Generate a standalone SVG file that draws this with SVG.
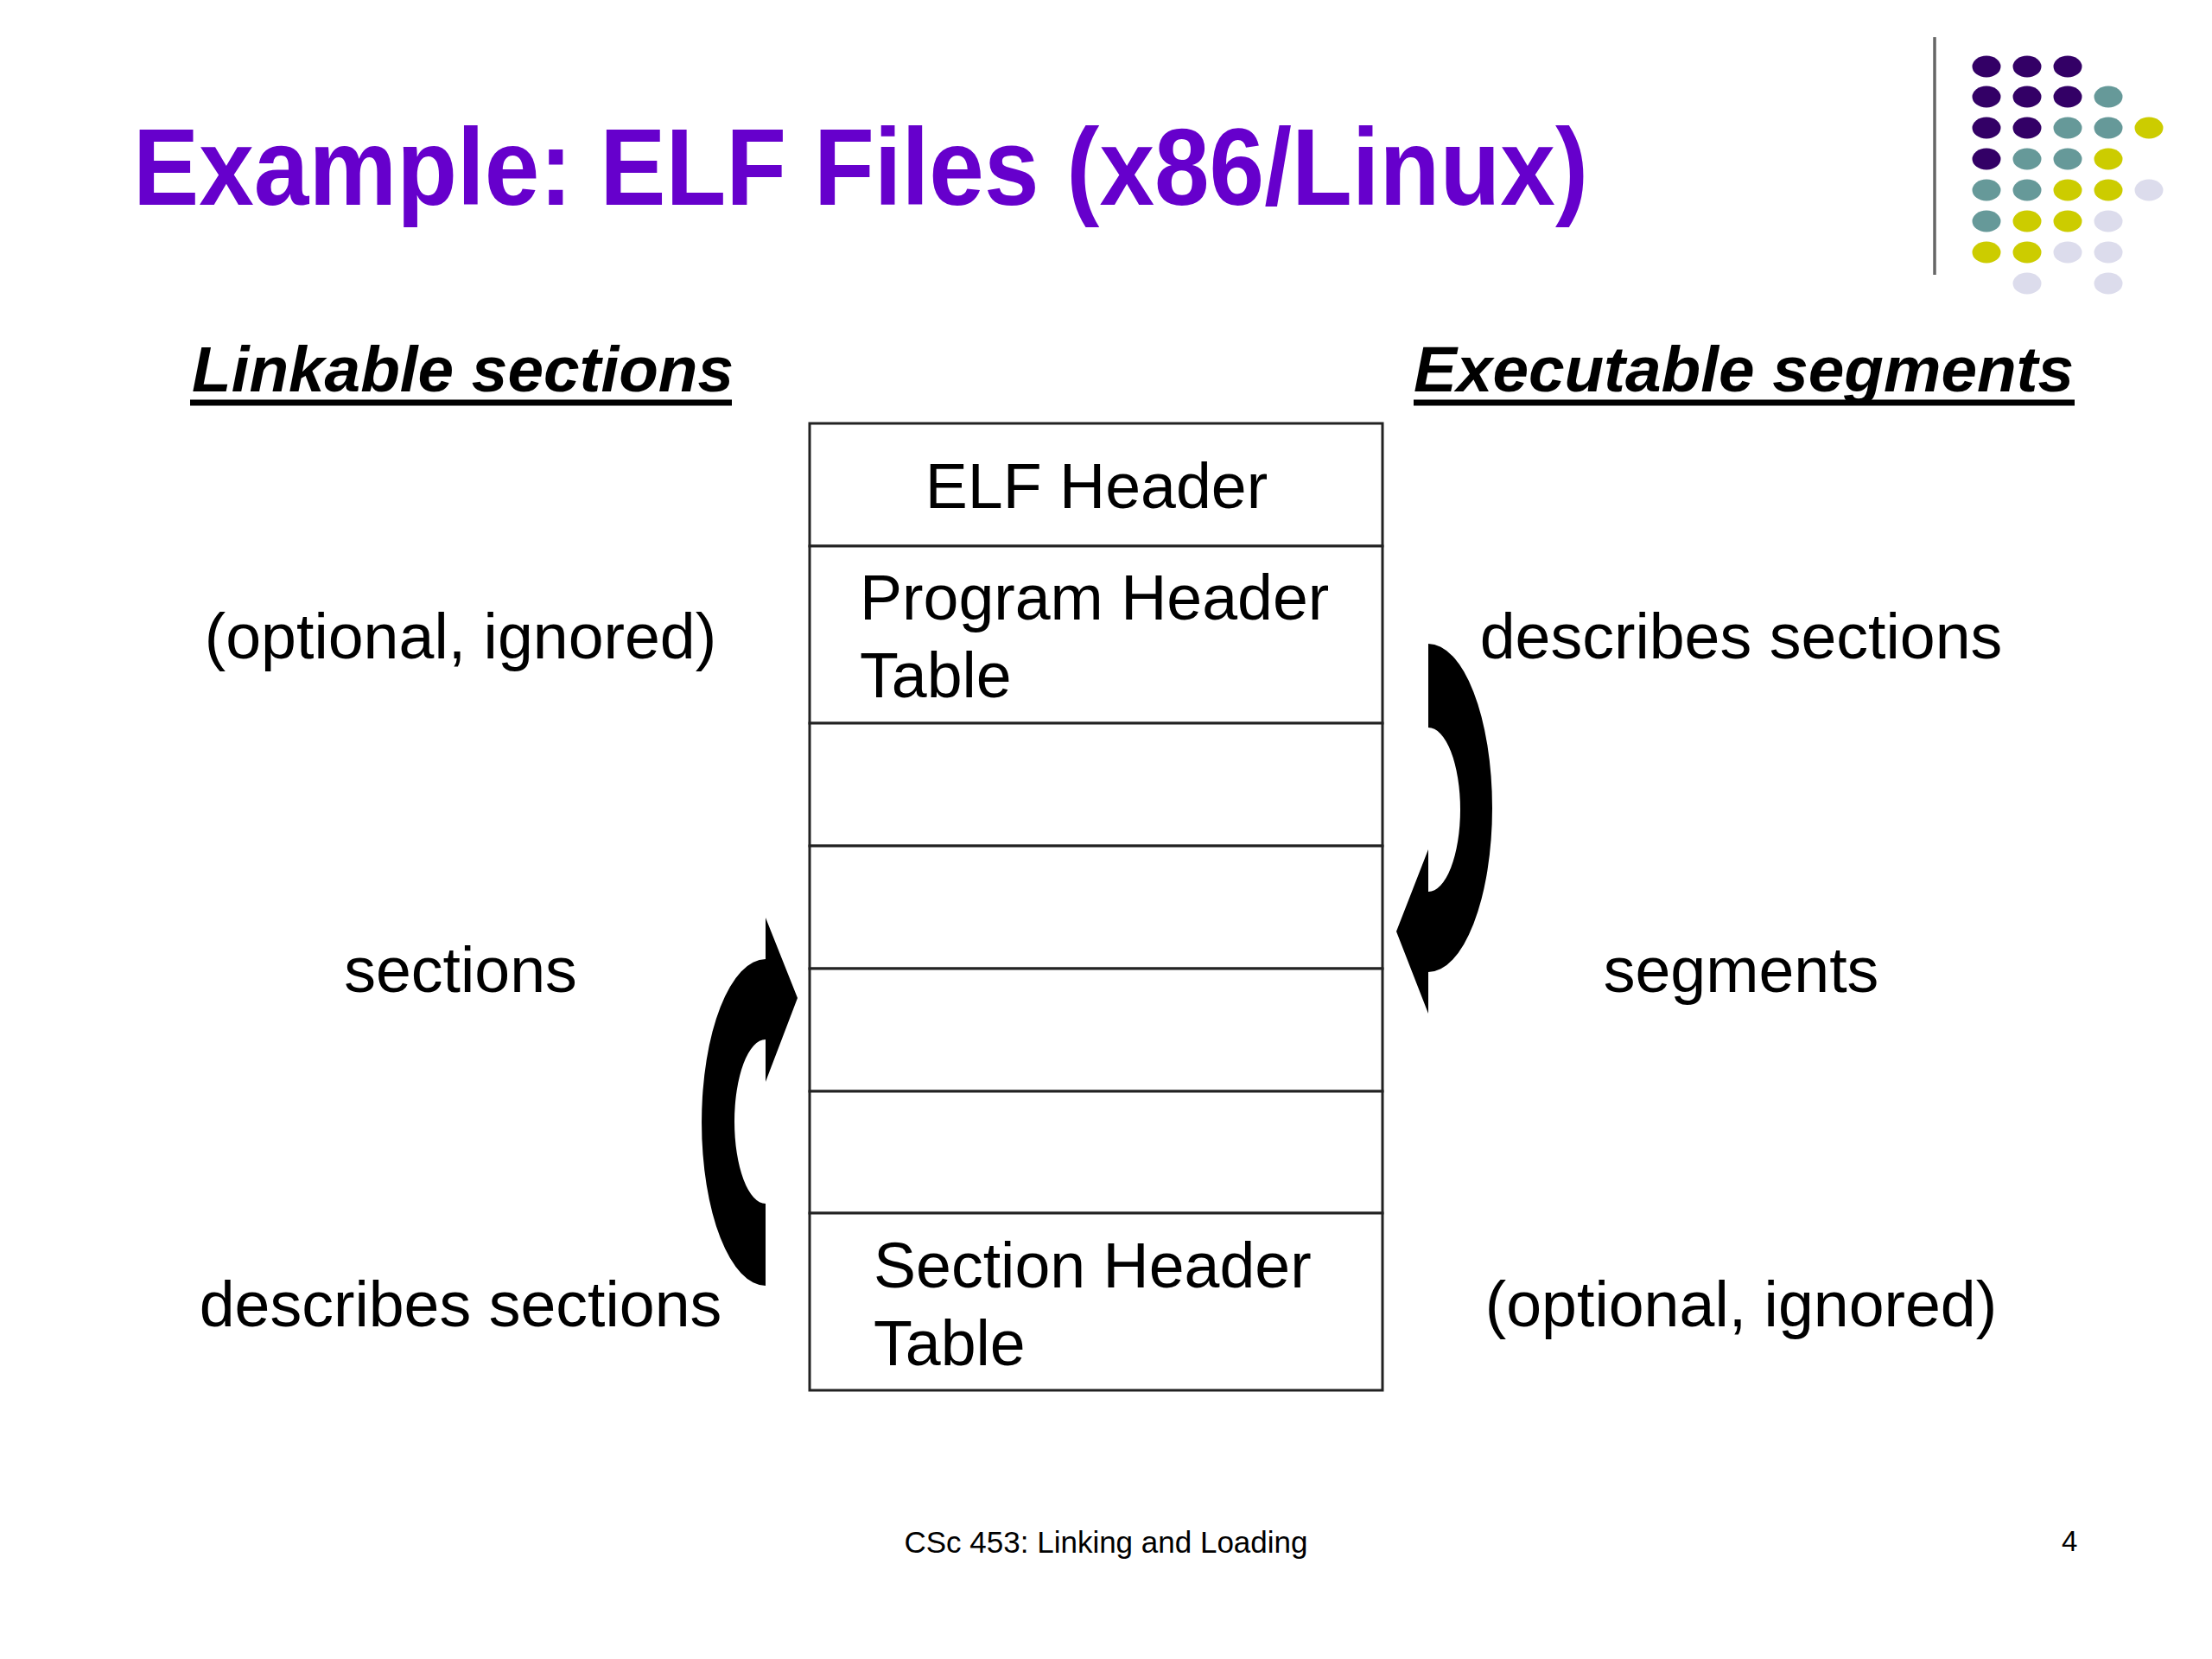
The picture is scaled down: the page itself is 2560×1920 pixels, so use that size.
<svg xmlns="http://www.w3.org/2000/svg" width="2560" height="1920" viewBox="0 0 2560 1920">
<style>
text{font-family:"Liberation Sans",Arial,sans-serif;fill:#000}
.title{font-size:126px;font-weight:bold;fill:#6600cc}
.head{font-size:74px;font-weight:bold;font-style:italic}
.body{font-size:73.5px}
.mid{text-anchor:middle}
.foot{font-size:35px}
.cell{fill:#fff;stroke:#222;stroke-width:3}
.ul{stroke:#000;stroke-width:7}
.arrow{fill:#000;stroke:none}
.p{fill:#330066}.t{fill:#669999}.y{fill:#cccc00}.l{fill:#dcdcec}
</style>
<rect width="2560" height="1920" fill="#fff"/>
<g id="title">
<text class="title" x="154" y="237" textLength="1684" lengthAdjust="spacingAndGlyphs">Example: ELF Files (x86/Linux)</text>
</g>
<g id="logo">
<line x1="2239" y1="43" x2="2239" y2="318" stroke="#666" stroke-width="3.5"/>
<g>
<ellipse class="p" cx="2299" cy="77" rx="16.5" ry="12.5"/><ellipse class="p" cx="2346" cy="77" rx="16.5" ry="12.5"/><ellipse class="p" cx="2393" cy="77" rx="16.5" ry="12.5"/>
<ellipse class="p" cx="2299" cy="112" rx="16.5" ry="12.5"/><ellipse class="p" cx="2346" cy="112" rx="16.5" ry="12.5"/><ellipse class="p" cx="2393" cy="112" rx="16.5" ry="12.5"/><ellipse class="t" cx="2440" cy="112" rx="16.5" ry="12.5"/>
<ellipse class="p" cx="2299" cy="148" rx="16.5" ry="12.5"/><ellipse class="p" cx="2346" cy="148" rx="16.5" ry="12.5"/><ellipse class="t" cx="2393" cy="148" rx="16.5" ry="12.5"/><ellipse class="t" cx="2440" cy="148" rx="16.5" ry="12.5"/><ellipse class="y" cx="2487" cy="148" rx="16.5" ry="12.5"/>
<ellipse class="p" cx="2299" cy="184" rx="16.5" ry="12.5"/><ellipse class="t" cx="2346" cy="184" rx="16.5" ry="12.5"/><ellipse class="t" cx="2393" cy="184" rx="16.5" ry="12.5"/><ellipse class="y" cx="2440" cy="184" rx="16.5" ry="12.5"/>
<ellipse class="t" cx="2299" cy="220" rx="16.5" ry="12.5"/><ellipse class="t" cx="2346" cy="220" rx="16.5" ry="12.5"/><ellipse class="y" cx="2393" cy="220" rx="16.5" ry="12.5"/><ellipse class="y" cx="2440" cy="220" rx="16.5" ry="12.5"/><ellipse class="l" cx="2487" cy="220" rx="16.5" ry="12.5"/>
<ellipse class="t" cx="2299" cy="256" rx="16.5" ry="12.5"/><ellipse class="y" cx="2346" cy="256" rx="16.5" ry="12.5"/><ellipse class="y" cx="2393" cy="256" rx="16.5" ry="12.5"/><ellipse class="l" cx="2440" cy="256" rx="16.5" ry="12.5"/>
<ellipse class="y" cx="2299" cy="292" rx="16.5" ry="12.5"/><ellipse class="y" cx="2346" cy="292" rx="16.5" ry="12.5"/><ellipse class="l" cx="2393" cy="292" rx="16.5" ry="12.5"/><ellipse class="l" cx="2440" cy="292" rx="16.5" ry="12.5"/>
<ellipse class="l" cx="2346" cy="328" rx="16.5" ry="12.5"/><ellipse class="l" cx="2440" cy="328" rx="16.5" ry="12.5"/>
</g>
</g>
<g id="linkable-heading">
<text class="head" x="222" y="453" textLength="627" lengthAdjust="spacingAndGlyphs">Linkable sections</text>
<line class="ul" x1="220" y1="466" x2="847" y2="466"/>
</g>
<g id="executable-heading">
<text class="head" x="1636" y="453" textLength="764" lengthAdjust="spacingAndGlyphs">Executable segments</text>
<line class="ul" x1="1636" y1="466" x2="2401" y2="466"/>
</g>
<g id="elf-header">
<rect class="cell" x="937" y="490" width="663" height="142"/>
<text class="body mid" x="1269" y="588">ELF Header</text>
</g>
<g id="program-header-table">
<rect class="cell" x="937" y="632" width="663" height="205"/>
<text class="body" x="995" y="717">Program Header</text>
<text class="body" x="995" y="807">Table</text>
</g>
<g id="block-1"><rect class="cell" x="937" y="837" width="663" height="142"/></g>
<g id="block-2"><rect class="cell" x="937" y="979" width="663" height="142"/></g>
<g id="block-3"><rect class="cell" x="937" y="1121" width="663" height="142"/></g>
<g id="block-4"><rect class="cell" x="937" y="1263" width="663" height="141"/></g>
<g id="section-header-table">
<rect class="cell" x="937" y="1404" width="663" height="205"/>
<text class="body" x="1011" y="1490">Section Header</text>
<text class="body" x="1011" y="1580">Table</text>
</g>
<g id="left-labels">
<text class="body mid" x="533" y="762">(optional, ignored)</text>
<text class="body mid" x="533" y="1148">sections</text>
<text class="body mid" x="533" y="1535">describes sections</text>
</g>
<g id="right-labels">
<text class="body mid" x="2015" y="762">describes sections</text>
<text class="body mid" x="2015" y="1148">segments</text>
<text class="body mid" x="2015" y="1535">(optional, ignored)</text>
</g>
<g id="connectors">
<path class="arrow" d="M1653,745 A74,190 0 0 1 1653,1125 L1653,1173 L1616,1078 L1653,983 L1653,1032 A37,95 0 0 0 1653,842 Z"/>
<path class="arrow" d="M886,1488 A74,189 0 0 1 886,1110 L886,1062 L923,1155 L886,1252 L886,1203 A36,95 0 0 0 886,1393 Z"/>
</g>
<g id="footer">
<text class="foot mid" x="1280" y="1797">CSc 453: Linking and Loading</text>
<text class="foot" x="2386" y="1795" style="font-size:33px">4</text>
</g>
</svg>
